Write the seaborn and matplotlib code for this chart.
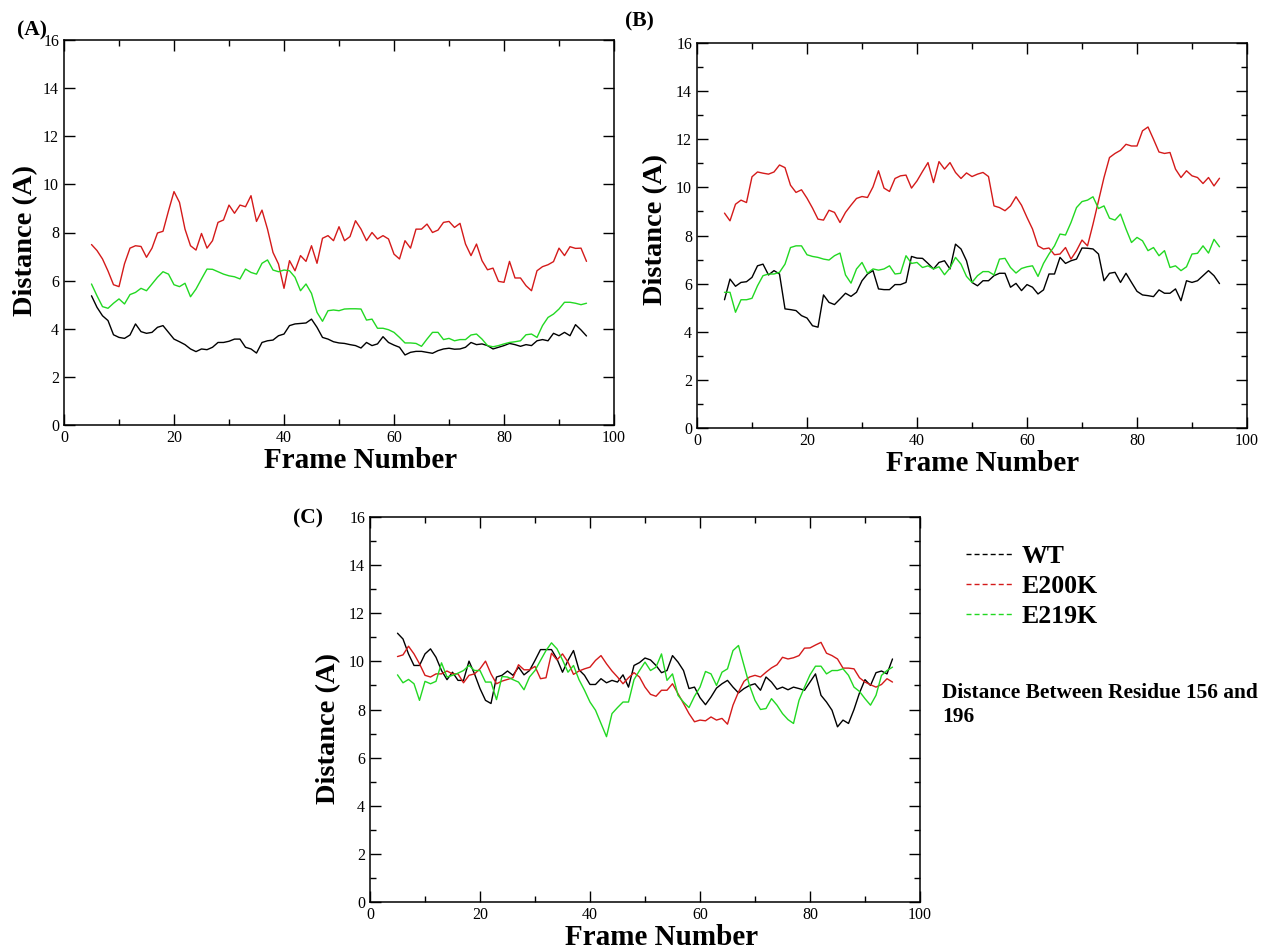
import numpy as np
import pandas as pd
import matplotlib
matplotlib.use("Agg")
import matplotlib.pyplot as plt
from matplotlib.ticker import MultipleLocator, NullLocator
from matplotlib.lines import Line2D
import seaborn as sns

# ---------------- data ----------------
frames = list(range(5, 96))
systems = ["WT", "E200K", "E219K"]
panel_names = ["(A)", "(B)", "(C)"]
x_ticks = [0, 20, 40, 60, 80, 100]
y_ticks = [0, 2, 4, 6, 8, 10, 12, 14, 16]
note_text = "Distance Between Residue 156 and\n196"

A_wt = [5.37, 4.89, 4.54, 4.34, 3.75, 3.64, 3.60, 3.74, 4.20, 3.88,
        3.81, 3.85, 4.06, 4.13, 3.85, 3.57, 3.46, 3.34, 3.16, 3.05,
        3.16, 3.13, 3.23, 3.43, 3.43, 3.48, 3.57, 3.57, 3.23, 3.16,
        2.99, 3.43, 3.50, 3.53, 3.71, 3.78, 4.13, 4.20, 4.22, 4.24,
        4.40, 4.06, 3.64, 3.57, 3.46, 3.41, 3.39, 3.34, 3.30, 3.20,
        3.43, 3.30, 3.37, 3.67, 3.43, 3.32, 3.23, 2.91, 3.02, 3.06,
        3.06, 3.02, 2.98, 3.09, 3.16, 3.19, 3.15, 3.16, 3.23, 3.43,
        3.34, 3.37, 3.30, 3.16, 3.23, 3.30, 3.39, 3.34, 3.27, 3.34,
        3.30, 3.50, 3.55, 3.50, 3.81, 3.71, 3.85, 3.71, 4.17, 3.95,
        3.70]
A_e200k = [7.50, 7.25, 6.90, 6.40, 5.83, 5.75, 6.70, 7.35, 7.45, 7.42,
           6.97, 7.35, 7.98, 8.05, 8.90, 9.70, 9.25, 8.14, 7.45, 7.27,
           7.96, 7.35, 7.66, 8.42, 8.52, 9.14, 8.80, 9.14, 9.07, 9.53,
           8.46, 8.93, 8.14, 7.17, 6.69, 5.68, 6.83, 6.41, 7.04, 6.80,
           7.45, 6.72, 7.76, 7.87, 7.66, 8.24, 7.66, 7.83, 8.49, 8.14,
           7.66, 8.00, 7.73, 7.87, 7.73, 7.10, 6.90, 7.66, 7.35, 8.14,
           8.14, 8.35, 8.00, 8.10, 8.42, 8.46, 8.21, 8.38, 7.52, 7.04,
           7.52, 6.83, 6.45, 6.52, 5.97, 5.93, 6.80, 6.11, 6.11, 5.79,
           5.58, 6.41, 6.58, 6.66, 6.79, 7.35, 7.04, 7.41, 7.34, 7.35,
           6.80]
A_e219k = [5.86, 5.37, 4.92, 4.85, 5.06, 5.24, 5.03, 5.42, 5.51, 5.68,
           5.58, 5.86, 6.14, 6.37, 6.27, 5.83, 5.75, 5.89, 5.33, 5.65,
           6.07, 6.48, 6.47, 6.37, 6.27, 6.20, 6.16, 6.07, 6.48, 6.34,
           6.27, 6.72, 6.86, 6.44, 6.37, 6.44, 6.41, 6.14, 5.58, 5.86,
           5.47, 4.68, 4.31, 4.75, 4.78, 4.75, 4.82, 4.83, 4.83, 4.82,
           4.36, 4.40, 4.02, 4.02, 3.96, 3.85, 3.64, 3.41, 3.41, 3.39,
           3.27, 3.57, 3.85, 3.85, 3.55, 3.60, 3.50, 3.55, 3.55, 3.74,
           3.78, 3.57, 3.30, 3.25, 3.30, 3.37, 3.43, 3.46, 3.50, 3.75,
           3.78, 3.64, 4.13, 4.47, 4.61, 4.82, 5.10, 5.10, 5.06, 5.00,
           5.06]

B_wt = [5.33, 6.19, 5.89, 6.05, 6.08, 6.26, 6.74, 6.81, 6.36, 6.54,
        6.40, 4.95, 4.92, 4.88, 4.67, 4.57, 4.25, 4.19, 5.53, 5.22,
        5.13, 5.36, 5.60, 5.47, 5.64, 6.12, 6.40, 6.54, 5.78, 5.75,
        5.75, 5.96, 5.96, 6.05, 7.13, 7.06, 7.05, 6.84, 6.61, 6.88,
        6.95, 6.61, 7.64, 7.44, 6.95, 6.05, 5.91, 6.12, 6.12, 6.33,
        6.43, 6.43, 5.85, 6.01, 5.71, 5.96, 5.85, 5.57, 5.74, 6.40,
        6.40, 7.09, 6.84, 6.95, 7.02, 7.48, 7.47, 7.44, 7.23, 6.12,
        6.43, 6.47, 6.05, 6.43, 6.05, 5.68, 5.53, 5.50, 5.46, 5.74,
        5.60, 5.60, 5.78, 5.29, 6.12, 6.05, 6.12, 6.33, 6.54, 6.33,
        6.00]
B_e200k = [8.93, 8.61, 9.30, 9.47, 9.37, 10.44, 10.64, 10.59, 10.55, 10.64,
           10.93, 10.82, 10.09, 9.79, 9.90, 9.55, 9.14, 8.68, 8.64, 9.05,
           8.96, 8.54, 8.96, 9.26, 9.54, 9.62, 9.58, 10.02, 10.69, 9.97,
           9.83, 10.37, 10.48, 10.51, 9.97, 10.27, 10.66, 11.03, 10.20, 11.07,
           10.76, 11.03, 10.62, 10.37, 10.60, 10.45, 10.55, 10.62, 10.45, 9.23,
           9.16, 9.03, 9.23, 9.61, 9.26, 8.75, 8.27, 7.57, 7.44, 7.48,
           7.20, 7.23, 7.50, 7.02, 7.37, 7.81, 7.57, 8.47, 9.44, 10.41,
           11.24, 11.41, 11.54, 11.79, 11.72, 11.72, 12.35, 12.51, 12.00, 11.47,
           11.41, 11.45, 10.76, 10.41, 10.69, 10.48, 10.41, 10.16, 10.41, 10.06,
           10.38]
B_e219k = [5.64, 5.64, 4.81, 5.33, 5.33, 5.39, 5.91, 6.33, 6.40, 6.40,
           6.47, 6.81, 7.50, 7.57, 7.57, 7.20, 7.13, 7.09, 7.02, 6.98,
           7.16, 7.27, 6.36, 6.02, 6.61, 6.88, 6.43, 6.61, 6.56, 6.61,
           6.74, 6.40, 6.43, 7.16, 6.84, 6.88, 6.67, 6.74, 6.61, 6.70,
           6.37, 6.65, 7.09, 6.81, 6.30, 6.05, 6.33, 6.50, 6.50, 6.36,
           7.02, 7.05, 6.67, 6.44, 6.63, 6.70, 6.74, 6.30, 6.84, 7.23,
           7.57, 8.06, 8.02, 8.54, 9.16, 9.41, 9.47, 9.61, 9.12, 9.23,
           8.72, 8.64, 8.89, 8.27, 7.71, 7.92, 7.78, 7.37, 7.50, 7.16,
           7.37, 6.67, 6.74, 6.54, 6.70, 7.23, 7.26, 7.57, 7.27, 7.84,
           7.53]

C_wt = [11.17, 10.93, 10.31, 9.83, 9.83, 10.31, 10.52, 10.17, 9.62, 9.24,
        9.55, 9.21, 9.21, 10.01, 9.48, 8.87, 8.38, 8.25, 9.35, 9.42,
        9.60, 9.42, 9.76, 9.44, 9.62, 10.04, 10.49, 10.49, 10.49, 10.10,
        9.55, 10.04, 10.45, 9.65, 9.42, 9.04, 9.04, 9.28, 9.11, 9.21,
        9.14, 9.44, 8.93, 9.83, 9.95, 10.14, 10.06, 9.83, 9.53, 9.62,
        10.24, 9.97, 9.62, 8.87, 8.93, 8.49, 8.20, 8.52, 8.89, 9.07,
        9.21, 8.93, 8.69, 8.87, 9.00, 9.07, 8.80, 9.35, 9.14, 8.84,
        8.93, 8.82, 8.93, 8.87, 8.80, 9.14, 9.48, 8.59, 8.31, 7.97,
        7.28, 7.56, 7.42, 8.00, 8.69, 9.24, 9.00, 9.53, 9.60, 9.48,
        10.10]
C_e200k = [10.20, 10.27, 10.63, 10.31, 9.90, 9.42, 9.35, 9.48, 9.48, 9.60,
           9.48, 9.48, 9.11, 9.42, 9.48, 9.69, 10.01, 9.48, 9.07, 9.18,
           9.25, 9.32, 9.86, 9.65, 9.65, 9.79, 9.28, 9.32, 10.34, 10.06,
           10.31, 9.97, 9.46, 9.60, 9.69, 9.76, 10.04, 10.24, 9.90, 9.60,
           9.35, 9.07, 9.32, 9.53, 9.35, 8.93, 8.63, 8.55, 8.80, 8.80,
           9.07, 8.66, 8.25, 7.83, 7.49, 7.56, 7.53, 7.69, 7.56, 7.63,
           7.39, 8.18, 8.73, 9.17, 9.35, 9.42, 9.35, 9.55, 9.73, 9.86,
           10.17, 10.10, 10.15, 10.24, 10.55, 10.56, 10.68, 10.79, 10.34, 10.24,
           10.10, 9.72, 9.72, 9.69, 9.32, 9.14, 9.03, 8.93, 9.04, 9.28,
           9.14]
C_e219k = [9.44, 9.11, 9.25, 9.07, 8.38, 9.17, 9.07, 9.17, 9.94, 9.35,
           9.42, 9.51, 9.62, 9.83, 9.62, 9.62, 9.14, 9.14, 8.41, 9.37,
           9.35, 9.24, 9.14, 8.82, 9.35, 9.62, 10.04, 10.45, 10.77, 10.52,
           10.06, 9.55, 9.83, 9.24, 8.80, 8.31, 7.97, 7.42, 6.87, 7.83,
           8.08, 8.31, 8.31, 9.24, 9.62, 9.97, 9.62, 9.76, 10.31, 9.21,
           9.48, 8.59, 8.31, 8.08, 8.55, 8.93, 9.58, 9.48, 9.00, 9.55,
           9.69, 10.45, 10.66, 9.83, 9.00, 8.38, 8.00, 8.04, 8.45, 8.18,
           7.83, 7.58, 7.42, 8.38, 8.93, 9.44, 9.80, 9.80, 9.48, 9.62,
           9.62, 9.69, 9.42, 8.93, 8.75, 8.45, 8.18, 8.59, 9.42, 9.62,
           9.76]

panels = [
    [A_wt, A_e200k, A_e219k],
    [B_wt, B_e200k, B_e219k],
    [C_wt, C_e200k, C_e219k],
]

# ---------------- style ----------------
sns.set_theme(style="ticks")
serif = ["Liberation Serif", "DejaVu Serif"]
plt.rcParams["font.family"] = serif
plt.rcParams["axes.edgecolor"] = "black"
plt.rcParams["text.color"] = "black"
plt.rcParams["axes.labelcolor"] = "black"
plt.rcParams["xtick.color"] = "black"
plt.rcParams["ytick.color"] = "black"

colors = {"WT": "#000000", "E200K": "#d41a1a", "E219K": "#22d822"}

W, H = 1263, 950
fig = plt.figure(figsize=(W / 100, H / 100), dpi=100)

def px_axes(l, t, r, b):
    return fig.add_axes([l / W, 1 - b / H, (r - l) / W, (b - t) / H])

boxes = [(64, 40, 614, 425), (697, 43, 1247, 428), (370, 517, 920, 902)]
ylabel_x = [-0.047, -0.053, -0.053]
ylabel_y = [0.48, 0.515, 0.45]
xlabel_x = [0.54, 0.52, 0.53]
y_minor = [False, True, True]
panel_label_pos = [(32, 30), (639, 21), (308, 518)]

for i, (box, series) in enumerate(zip(boxes, panels)):
    ax = px_axes(*box)
    rows = []
    for name, vals in zip(systems, series):
        for f, v in zip(frames, vals):
            rows.append((f, v, name))
    df = pd.DataFrame(rows, columns=["Frame", "Distance", "System"])
    sns.lineplot(data=df, x="Frame", y="Distance", hue="System",
                 hue_order=systems, palette=colors, estimator=None,
                 errorbar=None, linewidth=1.0, legend=False, ax=ax)
    ax.set_xlim(0, 100)
    ax.set_ylim(0, 16)
    ax.set_xticks(x_ticks)
    ax.set_yticks(y_ticks)
    ax.xaxis.set_minor_locator(MultipleLocator(10))
    if y_minor[i]:
        ax.yaxis.set_minor_locator(MultipleLocator(1))
    else:
        ax.yaxis.set_minor_locator(NullLocator())
    ax.tick_params(which="both", direction="in", top=True, right=True,
                   width=1.0, labelsize=11.5, pad=3.5)
    ax.tick_params(which="major", length=8)
    ax.tick_params(which="minor", length=4.5)
    for sp in ax.spines.values():
        sp.set_visible(True)
        sp.set_linewidth(1.1)
        sp.set_color("black")
    ax.set_xlabel("Frame Number", fontsize=21, fontweight="bold")
    ax.set_ylabel("Distance (A)", fontsize=20.5, fontweight="bold")
    ax.xaxis.set_label_coords(xlabel_x[i], -0.057)
    ax.yaxis.set_label_coords(ylabel_x[i], ylabel_y[i])
    px, py = panel_label_pos[i]
    fig.text(px / W, 1 - py / H, panel_names[i], fontsize=15.5,
             fontweight="bold", ha="center", va="center")

# legend
handles = [Line2D([], [], color=colors[s], linewidth=1.0,
                  linestyle=(0, (3.6, 2.2))) for s in systems]
fig.legend(handles, systems, loc="upper left",
           bbox_to_anchor=(966 / W, 1 - 545 / H), frameon=False,
           prop={"family": serif, "weight": "bold", "size": 18.5},
           handlelength=1.85, handletextpad=0.3, labelspacing=0.28,
           borderpad=0, borderaxespad=0)

fig.text(942 / W, 1 - 683 / H, note_text, fontsize=15.4, fontweight="bold",
         ha="left", va="top", linespacing=1.25)

fig.savefig("out.png", dpi=100)
